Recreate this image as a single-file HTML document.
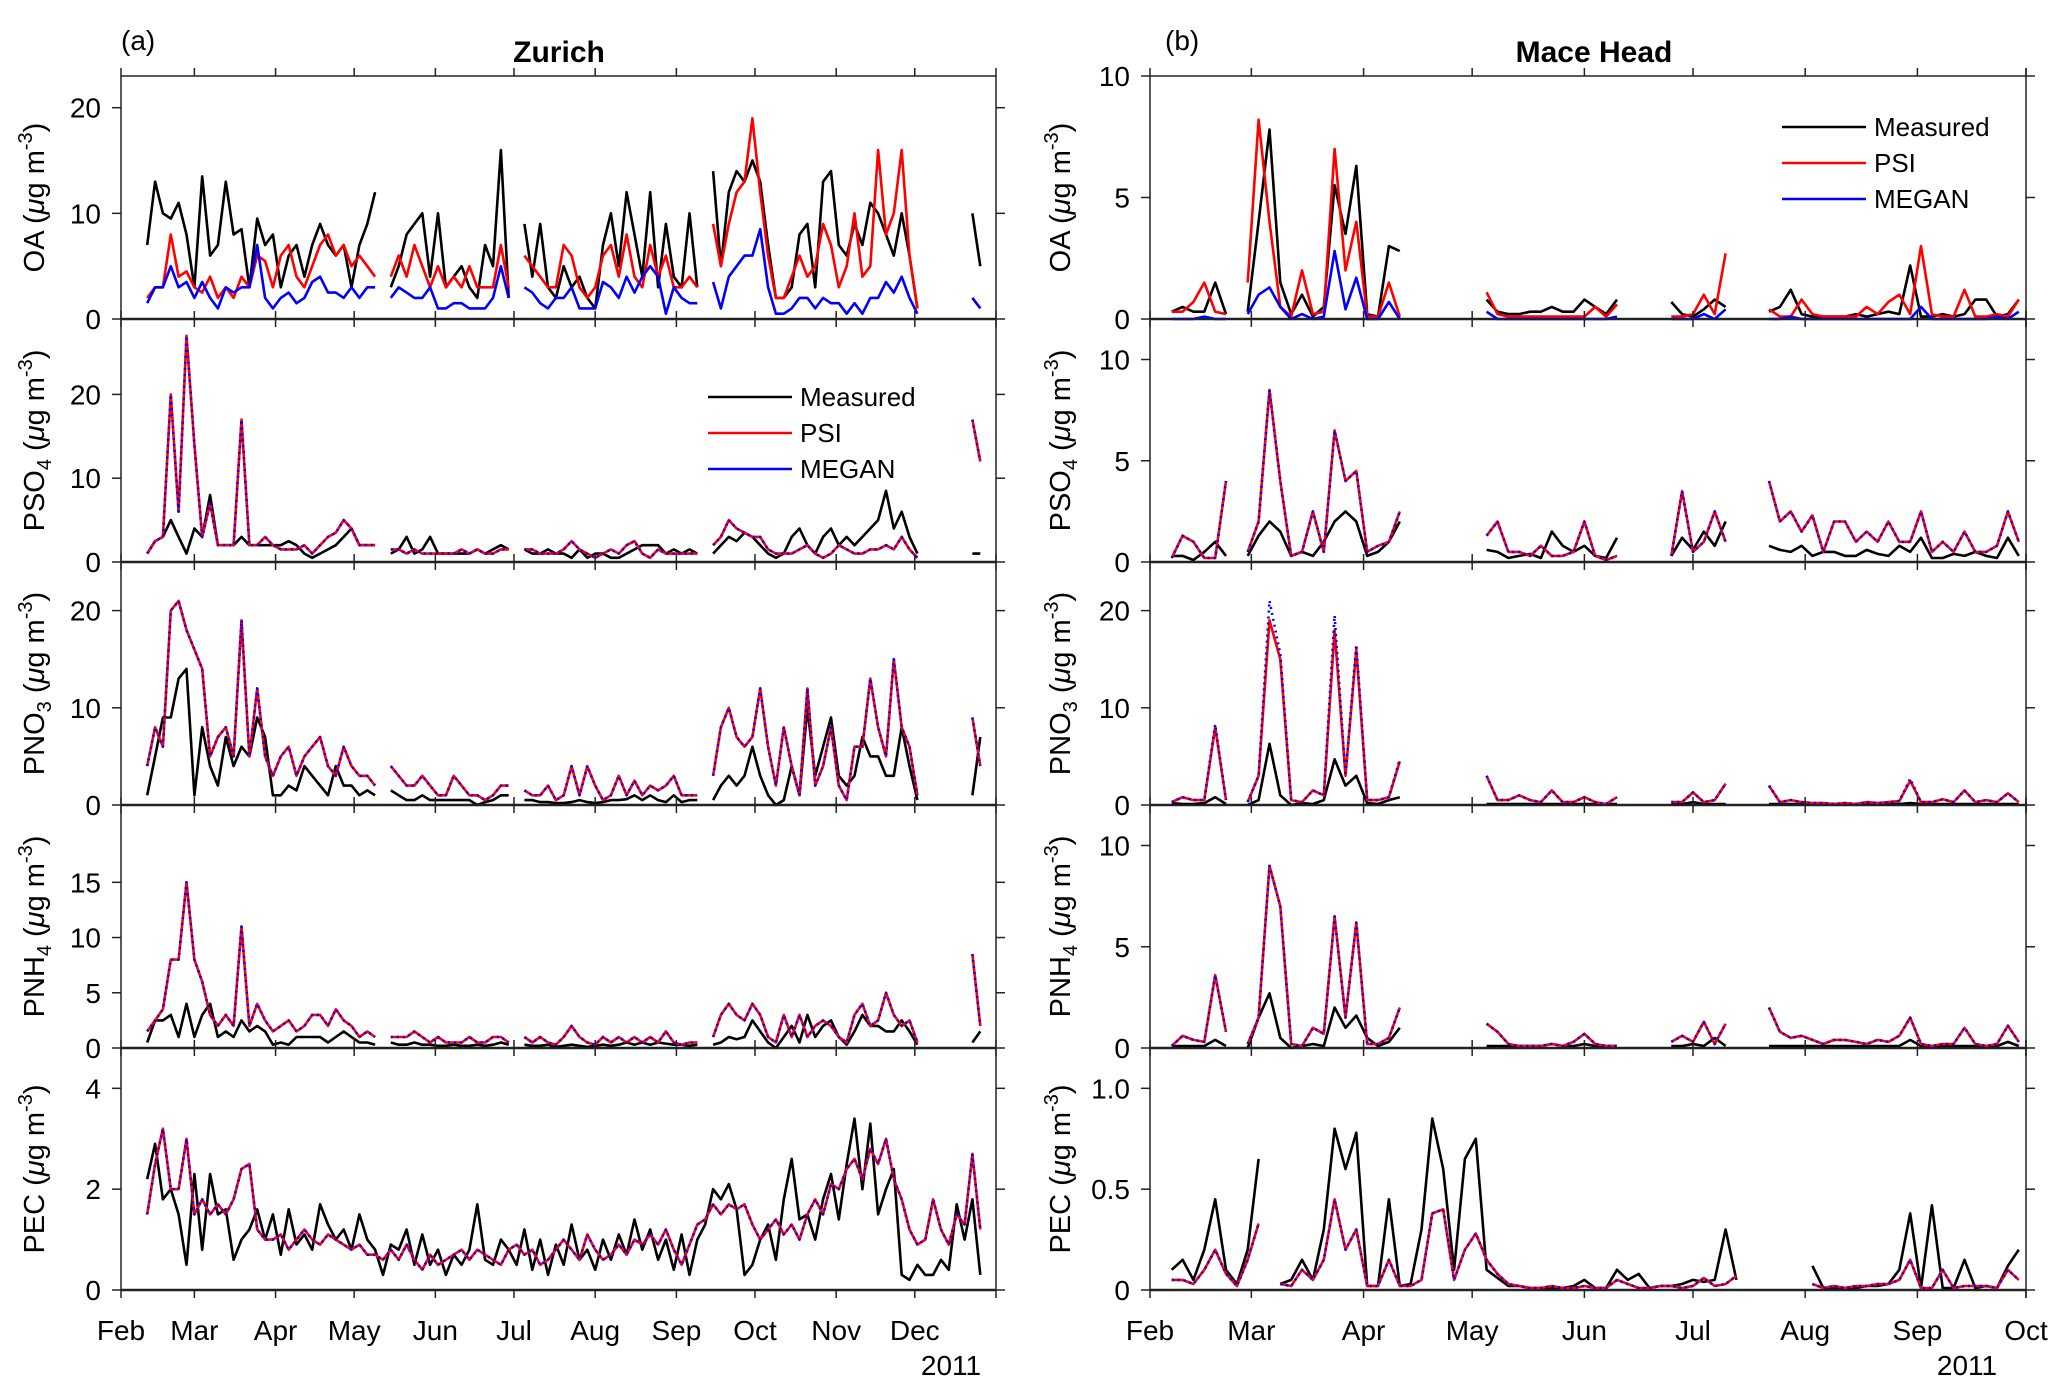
<!DOCTYPE html>
<html><head><meta charset="utf-8">
<style>
html,body{margin:0;padding:0;background:#fff;}
svg{display:block;font-family:"Liberation Sans",Arial,sans-serif;}
</style></head>
<body>
<svg id="fig" width="2067" height="1393" viewBox="0 0 2067 1393" xmlns="http://www.w3.org/2000/svg">
<rect x="0" y="0" width="2067" height="1393" fill="#fff"/>
<text x="121" y="50" font-size="28">(a)</text>
<text x="1165" y="50" font-size="28">(b)</text>
<text x="559" y="62" font-size="30" font-weight="bold" text-anchor="middle">Zurich</text>
<text x="1594" y="62" font-size="30" font-weight="bold" text-anchor="middle">Mace Head</text>
<text x="951" y="1375" font-size="28" text-anchor="middle">2011</text>
<text x="1967" y="1375" font-size="28" text-anchor="middle">2011</text>
<g id="plots"></g>
</svg>
<script>
// ---- Zurich data: day offset from Feb 1, start 10, step 3 ----
const zStart = 10, zStep = 3;
const zOAMeas = [7,13,10,9.5,11,8,3,13.5,6,7, 13,8,8.5,3,9.5,7,8,3,6,7, 4,7,9,7,6,7,3,7,9,12, null,3,5,8,9,10,4,10,3,4, 5,3,2,7,5,16,2,null,9,4, 9,3,2,5,3,4,2,1,7,10, 5,12,8,4,12,3,9,4,3,10, 3,null,14,5,12,14,13,15,13,7, 2,2,3,8,9,3,13,14,7,6, 9,7,11,10,8,6,10,6,1,null, 4,null,null,null,null,10,5];
const zOAPsi = [2,3,3,8,4,4.5,3,2.5,4,2, 3,2,4,3,6,5.5,3,6,7,4, 3,5,7,8,6,7,5,6,5,4, null,4,6,4,7,5,3,5,3,4, 3,5,3,3,3,7,3,null,6,5, 4,3,3,7,6,3,2,3,6,7, 4,8,4,3,7,4,6,3,3,4, 3,null,9,5,9,12,13,19,12,6, 2,2,4,6,4,5,9,7,3,5, 10,4,5,16,8,10,16,6,1,null, 4,null,null,null,null,2,1];
const zOAMeg = [1.5,3,3,5,3,3.5,2,3.5,2,1, 3,2.5,3,3,7,2,1,2,2.5,1.5, 2,3.5,4,2.5,2.5,2,3,2,3,3, null,2,3,2.5,2,2,3,1,1,1.5, 1.5,1,1,1,2,5,2,null,3,2.5, 1.5,1,2,2,3,1,1,1,3.5,3, 2,4,2.5,4,5,4,0.5,3,2,1.5, 1.5,null,3.5,1,4,5,6,6,8.5,3, 0.5,0.5,1,2,2,1,2,1.5,1.5,0.5, 1.5,0.5,2,2,3.5,2.5,4,2,0.5,null, 1,null,null,null,null,2,1];
const zSO4Meas = [1,2.5,3,5,3,1,4,3,8,2, 2,2,3,2,2,2,2,2,2.5,2, 1,0.5,1,1.5,2,3,4,2,2,2, null,1,1.5,3,1,1.5,3,1,1,1, 1,1,1.5,1,1.5,2,1.5,null,1.5,1, 1,1.5,1,1,0.5,1.5,0.5,1,1,0.5, 0.5,1,1.5,2,2,2,1,1.5,1,1.5, 1,null,1,2,3,2.5,3.5,3,2,1, 0.5,1,3,4,2,1,3,4,2,3, 2,3,4,5,8.5,4,6,3,1,null, 1,null,null,null,null,1,1];
const zSO4Psi = [1,2.5,3,20,6,27,14,3,7,2, 2,2,17,2,2,3,2,1.5,1.5,1.5, 2,1,2,3,3.5,5,4,2,2,2, null,1.5,1.5,1,1.5,1,1,1,1,1, 1.5,1,1.5,1,1,1.5,1.5,null,1.5,1.5, 1,1,1,1.5,2.5,1.5,1,0.5,1,1.5, 1,2,2.5,1,0.5,1.5,1,1,1,1, 1,null,2,3,5,4,3.5,3,3,1.5, 1,1,1,1.5,2,1,0.5,1,2,1.5, 1,1,1.5,1.5,2,1.5,3,1.5,0.5,null, 1.5,null,null,null,null,17,12];
const zSO4Meg = zSO4Psi.slice();
const zNO3Meas = [1,5,9,9,13,14,1,8,4,2, 7,4,6,5,9,7,1,1,2,1.5, 4,3,2,1,4,2,2,1,1.5,1, null,1.5,1,0.5,0.5,1,0.5,0.5,0.5,0.5, 0.5,0.5,0,0.3,0.5,1,1,null,0.5,0.5, 0.3,0.3,0.2,0.2,0.3,0.5,0.3,0.2,0.3,0.5, 0.5,0.6,1,0.5,1,0.5,0.3,1,0.3,0.5, 0.5,null,0.5,2,3,2,3,6,3,1, 0,0.5,4,1,10,3,6,9,3,2, 3,7,5,5,3,3,8,4,0.5,null, 2,null,null,null,null,1,7];
const zNO3Psi = [4,8,6,20,21,18,16,14,5,7, 8,5,19,5,12,5,3,5,6,3, 5,6,7,4,3,6,4,3,3,2, null,4,3,2,2,3,2,1,1,3, 2,1,1,0.5,1,2,2,null,1.5,1, 1,2,0.5,1,4,1,4,2,0.5,1, 3,1,2.5,1,2,1.5,2,3,1,1, 1,null,3,8,10,7,6,7,12,6, 2,8,4,1,12,2,4,8,2,0.5, 6,6,13,8,5,15,8,6,1,null, 4,null,null,null,null,9,4];
const zNO3Meg = zNO3Psi.slice();
const zNH4Meas = [0.5,2.5,2.5,3,1,4,1,3,4,1, 1.5,1,2.5,1.5,2,1.5,0.3,0.5,0.3,1, 1,1,1,0.5,1,1.5,1,0.5,0.5,0.3, null,0.5,0.3,0.3,0.5,0.3,0.3,0.2,0.2,0.3, 0.2,0.2,0.3,0.2,0.3,0.5,0.3,null,0.3,0.2, 0.2,0.3,0.1,0.2,0.3,0.2,0.1,0.2,0.3,0.2, 0.3,0.5,0.3,0.5,0.3,0.5,0.4,0.3,0.3,0.2, 0.3,null,0.3,0.5,1,0.8,1,2.5,1.5,0.5, 0,1,2,0.5,3,1,2,2.5,1,0.3, 1.5,3,2,2,1.5,1.5,2.5,1.5,0.3,null, 0.5,null,null,null,null,0.5,1.5];
const zNH4Psi = [1.5,2.5,3.5,8,8,15,8,6,3,2, 3,2,11,2,4,2.5,1.5,2,2.5,1.5, 2,3,3,2,3.5,2.5,2,1,1.5,1, null,1,1,1,1.5,1,0.5,1,0.5,0.5, 0.5,1,0.5,0.5,1,1,0.5,null,1,0.5, 1,0.5,0.3,1,2,1,0.5,0.3,1,0.5, 1,0.5,1,0.5,1,0.5,1.5,0.5,0.3,0.5, 0.5,null,1,3,4,3,2.5,4,3,1, 0.5,3,1,3,1,2,2.5,2,1,0.5, 3,4,2,2.5,5,3,2,2.5,0.5,null, 1.5,null,null,null,null,8.5,2];
const zNH4Meg = zNH4Psi.slice();
const zECMeas = [2.2,2.9,1.8,2,1.5,0.5,2.3,0.8,2.3,1.5, 1.6,0.6,1,1.2,1.6,1,1.5,0.7,1.6,0.9, 1.1,0.8,1.7,1.3,1,1.2,0.8,1.5,1,0.8, 0.3,0.9,0.8,1.2,0.5,1.1,0.5,0.8,0.3,0.7, 0.5,0.8,1.7,0.6,0.5,1,0.8,0.5,1.2,0.4, 1,0.3,0.9,0.5,1.3,0.6,0.8,0.4,1,0.6, 1.1,0.7,1.4,0.8,1.2,0.6,1,0.4,1.1,0.3, 1,1.3,2,1.8,2.1,1.6,0.3,0.5,1,1.3, 0.6,1.8,2.6,1.4,1.5,1,1.8,2.3,1.4,2.5, 3.4,2,3.3,1.5,2,2.4,0.3,0.2,0.5,0.3, 0.3,0.6,0.4,1.7,1,1.8,0.3];
const zECPsi = [1.5,2.5,3.2,2,2,3,1.5,1.8,1.5,1.7, 1.5,1.8,2.4,2.5,1.2,1,1,1.1,0.8,1, 1.2,1,0.9,1.1,1,0.9,0.8,0.9,0.7,0.7, 0.6,0.8,0.6,0.9,0.6,0.4,0.7,0.5,0.6,0.7, 0.8,0.6,0.8,0.7,0.6,0.5,0.8,0.9,0.7,0.8, 0.5,0.6,0.8,1,0.8,0.6,1.1,0.8,0.6,0.7, 0.9,0.7,1,0.9,1.1,0.9,1.2,0.8,0.5,0.9, 1.3,1.4,1.7,1.5,1.7,1.6,1.7,1.3,1,1.2, 1.4,1.1,1.3,1,1.5,1.8,1.5,2.1,2,2.4, 2.6,2.2,2.8,2.5,3,2.2,1.8,1.2,0.9,1, 1.8,1.2,0.9,1.5,1.3,2.7,1.2];
const zECMeg = zECPsi.slice();

// ---- Mace Head data: start 6, step 3 ----
const mStart = 6, mStep = 3;
const mOAMeas = [0.3,0.5,0.3,0.3,1.5,0.2,null,0.3,4,7.8, 1.5,0.2,1,0.1,0.5,5.5,3.5,6.3,0.2,0.1, 3,2.8,null,null,null,null,null,null,null,0.8, 0.3,0.2,0.2,0.3,0.3,0.5,0.3,0.3,0.8,0.5, 0.2,0.8,null,null,null,null,0.7,0.2,0.1,0.4, 0.8,0.5,null,null,null,0.3,0.5,1.2,0.2,0.1, 0.1,0.1,0.1,0.2,0.1,0.2,0.3,0.2,2.2,0.1, 0.1,0.2,0.1,0.2,0.8,0.8,0.1,0.2,0.8];
const mOAPsi = [0.3,0.3,0.7,1.5,0.3,0.2,null,1.5,8.2,4, 0.5,0.1,2,0.2,0.3,7,2,4,0.1,0.1, 1.5,0.1,null,null,null,null,null,null,null,1.1, 0.2,0.1,0.1,0.1,0.1,0.1,0.1,0.1,0.1,0.5, 0.1,0.6,null,null,null,null,0.1,0.1,0.2,1, 0.2,2.7,null,null,null,0.4,0.1,0.1,0.8,0.2, 0.1,0.1,0.1,0.1,0.5,0.2,0.7,1,0.2,3, 0.2,0.1,0.1,1.2,0.1,0.1,0.2,0.1,0.8];
const mOAMeg = [0,0,0,0.1,0,0,null,0.2,1,1.3, 0.5,0,0.2,0,0.1,2.8,0.4,1.7,0,0, 0.7,0,null,null,null,null,null,null,null,0.3, 0,0,0,0,0,0,0,0,0,0, 0,0.1,null,null,null,null,0,0,0,0.2, 0,0.4,null,null,null,0,0,0.1,0,0, 0,0,0,0,0,0,0,0,0,0.5, 0,0,0,0,0,0,0.1,0,0.3];
const mSO4Meas = [0.3,0.3,0.1,0.5,1,0.3,null,0.3,1.3,2, 1.5,0.3,0.5,0.3,1,2,2.5,2,0.3,0.5, 1,2,null,null,null,null,null,null,null,0.6, 0.5,0.2,0.3,0.4,0.2,1.5,0.8,0.5,0.8,0.3, 0.2,1.2,null,null,null,null,0.3,1.2,0.6,1.5, 0.8,2,null,null,null,0.8,0.6,0.5,0.8,0.3, 0.5,0.5,0.3,0.3,0.6,0.4,0.3,0.8,0.5,1.2, 0.2,0.2,0.4,0.3,0.5,0.3,0.2,1.2,0.3];
const mSO4Psi = [0.2,1.3,1,0.2,0.2,4,null,0.5,2,8.5, 4,0.3,0.5,2.5,0.5,6.5,4,4.5,0.5,0.8, 1,2.5,null,null,null,null,null,null,null,1.3, 2,0.5,0.5,0.3,0.8,0.3,0.3,0.5,2,0.3, 0.1,0.3,null,null,null,null,0.3,3.5,0.5,1, 2.5,1,null,null,null,4,2,2.5,1.5,2.3, 0.5,2,2,1,1.5,1,2,1,1,2.5, 0.5,1,0.5,1.5,0.5,0.5,0.8,2.5,1];
const mSO4Meg = mSO4Psi.slice();
const mNO3Meas = [0.2,0.1,0.1,0.2,0.8,0.1,null,0,0.5,6.3, 1,0,0.2,0.1,0.5,4.7,2,3,0.2,0.1, 0.5,0.8,null,null,null,null,null,null,null,0.1, 0.1,0.1,0.1,0.1,0.1,0.1,0.1,0.1,0.1,0.1, 0.1,0.1,null,null,null,null,0.1,0.1,0.3,0.1, 0.1,0.1,null,null,null,0.1,0.1,0.1,0.1,0.1, 0.1,0.1,0.1,0.1,0.1,0.1,0.1,0.1,0.2,0.1, 0.1,0.1,0.1,0.1,0.1,0.1,0.1,0.1,0.1];
const mNO3Psi = [0.3,0.8,0.5,0.5,8,0.5,null,0.3,3,19, 15,0.5,0.3,1.5,1,18,3,16,0.5,0.5, 0.8,4.5,null,null,null,null,null,null,null,3, 0.5,0.5,1,0.5,0.3,1.5,0.3,0.3,0.8,0.3, 0.1,0.8,null,null,null,null,0.3,0.3,1.3,0.3, 0.5,2.2,null,null,null,2,0.3,0.5,0.3,0.2, 0.2,0.1,0.2,0.1,0.3,0.2,0.3,0.4,2.5,0.3, 0.3,0.6,0.3,1.5,0.3,0.5,0.3,1.2,0.3];
const mNO3Meg = [0.3,0.8,0.5,0.5,8.3,0.5,null,0.3,3,21, 15.5,0.5,0.3,1.5,1,19.5,3,16.5,0.5,0.5, 0.8,4.7,null,null,null,null,null,null,null,3, 0.5,0.5,1,0.5,0.3,1.5,0.3,0.3,0.8,0.3, 0.1,0.8,null,null,null,null,0.3,0.3,1.3,0.3, 0.5,2.2,null,null,null,2,0.3,0.5,0.3,0.2, 0.2,0.1,0.2,0.1,0.3,0.2,0.3,0.4,2.7,0.3, 0.3,0.6,0.3,1.5,0.3,0.5,0.3,1.2,0.3];
const mNH4Meas = [0.1,0.1,0.1,0.1,0.4,0.1,null,0,1.5,2.7, 0.5,0,0.1,0.2,0.1,2,1,1.6,0.5,0.1, 0.3,1,null,null,null,null,null,null,null,0.1, 0.1,0.1,0.1,0.1,0.1,0.2,0.1,0.1,0.2,0.1, 0.1,0.1,null,null,null,null,0.1,0.1,0.2,0.1, 0.5,0.1,null,null,null,0.1,0.1,0.1,0.1,0.1, 0.1,0.1,0.1,0.1,0.1,0.1,0.1,0.1,0.4,0.1, 0.1,0.1,0.1,0.1,0.1,0.1,0.1,0.3,0.1];
const mNH4Psi = [0.1,0.6,0.4,0.3,3.6,0.8,null,0.2,1.5,9, 7,0.2,0.1,1,0.7,6.5,1.5,6.2,0.2,0.2, 0.5,2,null,null,null,null,null,null,null,1.2, 0.8,0.2,0.1,0.1,0.1,0.2,0.1,0.3,0.7,0.2, 0.1,0.1,null,null,null,null,0.3,0.6,0.3,1.3, 0.2,1.2,null,null,null,2,0.8,0.5,0.6,0.4, 0.2,0.4,0.4,0.3,0.2,0.4,0.3,0.6,1.5,0.2, 0.1,0.2,0.2,1,0.2,0.1,0.2,1.1,0.3];
const mNH4Meg = mNH4Psi.slice();
const mECMeas = [0.1,0.15,0.05,0.2,0.45,0.1,0.03,0.2,0.65,null, 0.03,0.05,0.15,0.05,0.3,0.8,0.6,0.78,0.02,0.02, 0.45,0.02,0.03,0.3,0.85,0.6,0.1,0.65,0.75,0.1, 0.06,0.02,0.02,0.01,0.01,0.01,0.01,0.02,0.05,0.01, 0.01,0.1,0.05,0.08,0.01,0.02,0.02,0.03,0.05,0.04, 0.05,0.3,0.05,null,null,null,null,null,null,0.12, 0.01,0.01,0.01,0.01,0.02,0.02,0.03,0.1,0.38,0.01, 0.42,0.01,0.01,0.15,0.01,0.02,0.01,0.12,0.2];
const mECPsi = [0.05,0.05,0.03,0.1,0.2,0.08,0.02,0.15,0.33,null, 0.03,0.02,0.1,0.05,0.15,0.45,0.2,0.3,0.02,0.02, 0.15,0.02,0.02,0.05,0.38,0.4,0.05,0.2,0.28,0.15, 0.08,0.03,0.02,0.01,0.01,0.02,0.01,0.01,0.02,0.01, 0.01,0.05,0.03,0.01,0.01,0.02,0.02,0.01,0.02,0.06, 0.02,0.03,0.07,null,null,null,null,null,null,0.03, 0.01,0.02,0.01,0.02,0.02,0.03,0.03,0.05,0.15,0.01, 0.01,0.1,0.01,0.02,0.02,0.02,0.01,0.1,0.05];
const mECMeg = mECPsi.slice();

// ---- axes ----
const monthNames = ["Feb","Mar","Apr","May","Jun","Jul","Aug","Sep","Oct","Nov","Dec"];
const monthDays = [0,28,59,89,120,150,181,212,242,273,303];
const zTicks = [[0,10,20],[0,10,20],[0,10,20],[0,5,10,15],[0,2,4]];
const zYMax = [23,29,25,22,4.8];
const mTicks = [[0,5,10],[0,5,10],[0,10,20],[0,5,10],[0,0.5,1.0]];
const mTickLabels = [["0","5","10"],["0","5","10"],["0","10","20"],["0","5","10"],["0","0.5","1.0"]];
const mYMax = [10,12,25,12,1.2];
const species = ["OA","PSO4","PNO3","PNH4","PEC"];

const NS = "http://www.w3.org/2000/svg";
const root = document.getElementById("plots");
const rowsY = [76,319,562,805,1048,1290];
function mk(tag, attrs, parent){
  const e = document.createElementNS(NS, tag);
  for (const k in attrs) e.setAttribute(k, attrs[k]);
  (parent||root).appendChild(e);
  return e;
}
function yLabel(g, x, y, sp){
  const t = mk("text", {x:0, y:0, "font-size":29, "text-anchor":"middle", transform:`translate(${x},${y}) rotate(-90)`}, g);
  
  
  const base = sp.replace(/[0-9]/g,"");
  const sub = sp.replace(/[^0-9]/g,"");
  let s = `<tspan>${base}</tspan>`;
  if (sub) s += `<tspan font-size="20" dy="7">${sub}</tspan><tspan dy="-7"> (</tspan>`; else s += `<tspan> (</tspan>`;
  s += `<tspan font-style="italic">μ</tspan><tspan>g m</tspan><tspan font-size="20" dy="-12">-3</tspan><tspan dy="12">)</tspan>`;
  t.innerHTML = s;
}
function drawSide(cfg){
  const {x0,x1,dmax,start,step,ymaxs,ticks,tlabels,series,side,yLabX,monthsN} = cfg;
  const xs = d => x0 + (d/dmax)*(x1-x0);
  for (let r=0;r<5;r++){
    const top = rowsY[r], bot = rowsY[r+1];
    const ys = v => bot - (v/ymaxs[r])*(bot-top);
    const g = mk("g", {});
    
    
    // frame
    const fr = mk("rect", {x:x0, y:top, width:x1-x0, height:bot-top, fill:"none", stroke:"#222", "stroke-width":1.5}, g);
    
    
    const zl = mk("line", {x1:x0, x2:x1, y1:bot, y2:bot, stroke:"#222", "stroke-width":2.5}, g);
    
    
    // x ticks
    monthDays.slice(0,monthsN).concat([dmax]).forEach(d=>{
      const X = xs(d);
      const t1 = mk("line", {x1:X,x2:X,y1:top,y2:top-8,stroke:"#222","stroke-width":1.5}, g);
      
      
      const t2 = mk("line", {x1:X,x2:X,y1:bot,y2:bot+8,stroke:"#222","stroke-width":1.5}, g);
      
      
    });
    // y ticks
    ticks[r].forEach((v,i)=>{
      const Y = ys(v);
      const a = mk("line", {x1:x0-9,x2:x0,y1:Y,y2:Y,stroke:"#222","stroke-width":1.5}, g);
      
      
      const b = mk("line", {x1:x1,x2:x1+9,y1:Y,y2:Y,stroke:"#222","stroke-width":1.5}, g);
      
      
      const tl = mk("text", {x:x0-20, y:Y+10, "font-size":28, "text-anchor":"end"}, g);
      
      
      tl.textContent = tlabels ? tlabels[r][i] : String(v);
    });
    yLabel(g, yLabX, (top+bot)/2, species[r]);
    // series
    series[r].forEach(s=>{
      let d = "", pen = false;
      s.data.forEach((v,i)=>{
        if (v===null||v===undefined){ pen=false; return; }
        const X = xs(start + i*step), Y = ys(v);
        d += (pen?"L":"M") + X.toFixed(1) + " " + Y.toFixed(1) + " ";
        pen = true;
      });
      const p = mk("path", {d:d, fill:"none", stroke:s.color, "stroke-width":s.dot?2.6:2.6, "stroke-linejoin":"round", "stroke-dasharray":s.dot?"2 4":"none"}, g);
      
      
    });
    if (r===4){
      monthNames.slice(0,monthsN).forEach((m,i)=>{
        const t = mk("text", {x:xs(monthDays[i]), y:1340, "font-size":28, "text-anchor":"middle"}, g);
        
        
        t.textContent = m;
      });
    }
  }
}
function ser(meas, psi, meg, dot){
  return [
    {name:"measured-line", color:"#000", data:meas},
    {name:"psi-line", color:"#f00", data:psi},
    {name:"megan-line", color:"#00f", data:meg, dot:dot}
  ];
}
drawSide({x0:121,x1:996,dmax:334,start:zStart,step:zStep,ymaxs:zYMax,ticks:zTicks,tlabels:null,side:"zurich",yLabX:44,monthsN:11,
  series:[ser(zOAMeas,zOAPsi,zOAMeg,false),ser(zSO4Meas,zSO4Psi,zSO4Meg,true),ser(zNO3Meas,zNO3Psi,zNO3Meg,true),ser(zNH4Meas,zNH4Psi,zNH4Meg,true),ser(zECMeas,zECPsi,zECMeg,true)]});
drawSide({x0:1150,x1:2026,dmax:242,start:mStart,step:mStep,ymaxs:mYMax,ticks:mTicks,tlabels:mTickLabels,side:"mace-head",yLabX:1070,monthsN:9,
  series:[ser(mOAMeas,mOAPsi,mOAMeg,false),ser(mSO4Meas,mSO4Psi,mSO4Meg,true),ser(mNO3Meas,mNO3Psi,mNO3Meg,true),ser(mNH4Meas,mNH4Psi,mNH4Meg,true),ser(mECMeas,mECPsi,mECMeg,true)]});

// legends
function legend(lx, ly, gap, nm){
  const g = mk("g", {});
  
  
  [["Measured","#000"],["PSI","#f00"],["MEGAN","#00f"]].forEach((e,i)=>{
    const y = ly + i*gap;
    const l = mk("line", {x1:lx, x2:lx+84, y1:y, y2:y, stroke:e[1], "stroke-width":2.6}, g);
    
    
    const t = mk("text", {x:lx+92, y:y+9, "font-size":26}, g);
    
    
    t.textContent = e[0];
  });
}
legend(708, 397, 36, "zurich-legend");
legend(1782, 127, 36, "mace-head-legend");
</script>
</body></html>
